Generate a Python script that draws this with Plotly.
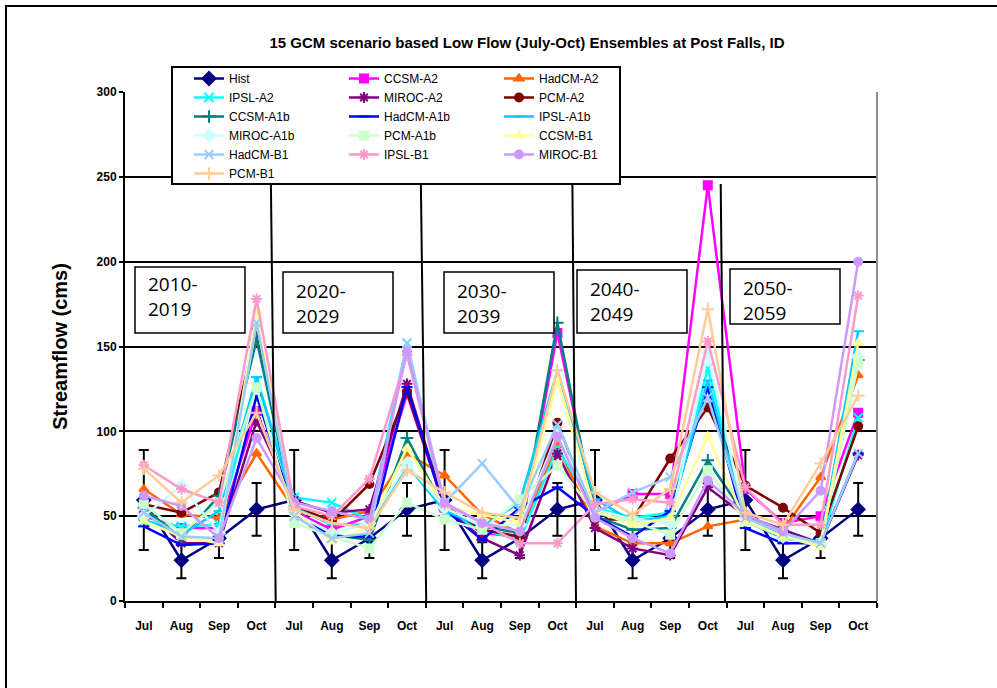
import plotly.graph_objects as go

# ---------------- data ----------------
months = ["Jul", "Aug", "Sep", "Oct"]
decades = ["2010-<br>2019", "2020-<br>2029", "2030-<br>2039", "2040-<br>2049", "2050-<br>2059"]
tick_labels = months * 5

series_names = ["Hist", "CCSM-A2", "HadCM-A2", "IPSL-A2", "MIROC-A2", "PCM-A2",
                "CCSM-A1b", "HadCM-A1b", "IPSL-A1b", "MIROC-A1b", "PCM-A1b",
                "CCSM-B1", "HadCM-B1", "IPSL-B1", "MIROC-B1", "PCM-B1"]

hist = [59.5, 24, 37, 54] * 5
hist_err = [29.5, 10.6, 11.6, 15.6] * 5

ccsm_a2 = [50, 43, 43, 112, 53, 42, 50, 122, 55, 40, 38, 158, 52, 63, 63, 245, 66, 46, 50, 111]
hadcm_a2 = [66, 51, 49, 87, 54, 48, 53, 87, 74, 51, 40, 92, 44, 34, 34, 44, 48, 42, 73, 133]
ipsl_a2 = [47, 44, 45, 130, 61, 58, 48, 152, 52, 42, 36, 90, 55, 49, 52, 137, 50, 42, 34, 108]
miroc_a2 = [55, 34, 34, 106, 59, 52, 54, 128, 55, 37, 27, 87, 43, 31, 27, 67, 50, 42, 34, 86]
pcm_a2 = [57, 52, 64, 160, 56, 47, 69, 123, 56, 42, 38, 105, 48, 48, 84, 114, 68, 55, 40, 103]
ccsm_a1b = [55, 37, 62, 154, 52, 39, 36, 96, 54, 44, 40, 164, 50, 42, 43, 83, 50, 38, 34, 142]
hadcm_a1b = [44, 33, 34, 121, 52, 38, 38, 126, 54, 36, 55, 67, 50, 38, 53, 126, 43, 34, 34, 87]
ipsl_a1b = [48, 39, 53, 132, 55, 45, 45, 80, 53, 44, 58, 136, 60, 47, 50, 130, 47, 37, 34, 159]
miroc_a1b = [50, 68, 40, 164, 52, 40, 46, 81, 55, 44, 45, 98, 54, 48, 46, 146, 48, 38, 34, 144]
pcm_a1b = [57, 40, 58, 126, 46, 38, 31, 58, 48, 42, 60, 80, 52, 47, 39, 77, 47, 38, 34, 140]
ccsm_b1 = [47, 38, 34, 171, 53, 35, 44, 90, 56, 51, 46, 130, 53, 45, 49, 97, 47, 38, 32, 152]
hadcm_b1 = [52, 38, 37, 164, 50, 37, 40, 152, 58, 81, 54, 104, 52, 64, 73, 120, 49, 40, 34, 87]
ipsl_b1 = [80, 66, 58, 178, 56, 50, 72, 145, 57, 46, 34, 34, 57, 60, 58, 153, 67, 45, 45, 180]
miroc_b1 = [62, 56, 37, 96, 58, 53, 48, 147, 58, 46, 41, 97, 49, 37, 28, 71, 51, 41, 65, 200]
pcm_b1 = [78, 58, 74, 111, 54, 46, 43, 77, 64, 52, 49, 136, 64, 51, 66, 172, 52, 45, 81, 121]

series_values = [hist, ccsm_a2, hadcm_a2, ipsl_a2, miroc_a2, pcm_a2,
                 ccsm_a1b, hadcm_a1b, ipsl_a1b, miroc_a1b, pcm_a1b,
                 ccsm_b1, hadcm_b1, ipsl_b1, miroc_b1, pcm_b1]

# ---------------- styles ----------------
colors = ["#000080", "#FF00FF", "#FF6600", "#00FFFF", "#800080", "#800000",
          "#008080", "#0000FF", "#00CCFF", "#CCFFFF", "#CCFFCC",
          "#FFFF99", "#99CCFF", "#FF99CC", "#CC99FF", "#FFCC99"]
symbols = ["diamond", "square", "triangle-up", "x-thin-open", "asterisk-open", "circle",
           "cross-thin-open", "line-ew-open", "line-ew-open", "diamond", "square",
           "triangle-up", "x-thin-open", "asterisk-open", "circle", "cross-thin-open"]
sizes = [10, 8, 8, 9, 9, 8, 9, 8, 8, 9, 8, 8, 9, 9, 8, 9]

W, H = 997, 688
L, R, T, B = 125, 877, 92, 601
PW, PH = R - L, B - T


def xp(px):
    return (px - L) / PW


def yp(py):
    return (B - py) / PH


x = list(range(20))
fig = go.Figure()
legends = ["legend", "legend2", "legend3"]
for i, (name, vals) in enumerate(zip(series_names, series_values)):
    c = colors[i]
    tr = dict(
        x=x, y=vals, name=name, mode="lines+markers",
        line=dict(color=c, width=2.5),
        marker=dict(symbol=symbols[i], size=sizes[i], color=c,
                    line=dict(color=c, width=2)),
        legend=legends[i % 3],
    )
    if i == 0:
        tr["error_y"] = dict(type="data", array=hist_err, visible=True,
                             color="black", thickness=2, width=5)
    fig.add_trace(go.Scatter(**tr))

shapes = []
# outer frame
shapes.append(dict(type="rect", xref="paper", yref="paper",
                   x0=xp(6), x1=xp(1005), y0=yp(700), y1=yp(6),
                   line=dict(color="black", width=2), layer="below"))
# right border of plot area
shapes.append(dict(type="line", xref="paper", yref="paper", x0=1, x1=1, y0=0, y1=1,
                   line=dict(color="#8c8c8c", width=2)))
# decade separator lines (hand drawn, slightly slanted)
for (xt, yt, xb) in [(270.9, 183, 275.7), (420.9, 185, 426.2), (572.4, 185, 576), (720.7, 184, 725)]:
    shapes.append(dict(type="line", xref="paper", yref="paper",
                       x0=xp(xt), y0=yp(yt), x1=xp(xb), y1=yp(601),
                       line=dict(color="black", width=2), layer="above"))
# legend box
shapes.append(dict(type="rect", xref="paper", yref="paper",
                   x0=xp(172), x1=xp(620), y0=yp(184), y1=yp(67),
                   line=dict(color="black", width=2), fillcolor="white", layer="above"))

# decade label boxes: (box x0, y0, x1, y1, text left, text centre y)
boxes = [(135, 267, 245, 333, 146, 296), (283, 272, 393, 333, 294, 303),
         (444, 272, 554, 333, 455, 303), (577, 270, 687, 333, 588, 301),
         (730, 269, 840, 324, 741, 300)]
annotations = []
for txt, (x0, y0, x1, y1, tx, ty) in zip(decades, boxes):
    shapes.append(dict(type="rect", xref="paper", yref="paper",
                       x0=xp(x0), x1=xp(x1), y0=yp(y1), y1=yp(y0),
                       line=dict(color="black", width=1.5), fillcolor="white", layer="above"))
    annotations.append(dict(
        text=txt, xref="paper", yref="paper", x=xp(tx), y=yp(ty),
        xanchor="left", yanchor="middle", showarrow=False, align="left",
        font=dict(family="Open Sans", size=19, color="black")))

leg_common = dict(orientation="v", bgcolor="rgba(0,0,0,0)", borderwidth=0,
                  font=dict(family="Liberation Sans, Arial", size=12, color="black"),
                  xanchor="left", yanchor="top", tracegroupgap=0, itemwidth=30)

fig.update_layout(
    width=W, height=H,
    margin=dict(l=L, r=W - R, t=T, b=H - B),
    paper_bgcolor="white", plot_bgcolor="white",
    title=dict(text="<b>15 GCM scenario based Low Flow (July-Oct) Ensembles at Post Falls, ID</b>",
               x=527 / W, y=1 - 43 / H, xref="container", yref="container",
               xanchor="center", yanchor="middle",
               font=dict(family="Liberation Sans, Arial", size=15, color="black")),
    xaxis=dict(range=[-0.5, 19.5], tickmode="array", tickvals=x, ticktext=tick_labels,
               ticks="outside", ticklen=13, tickcolor="rgba(0,0,0,0)",
               showgrid=False, zeroline=False, showline=True, linecolor="black", linewidth=2,
               tickfont=dict(family="Liberation Sans, Arial", size=12, color="black", weight="bold"),
               minor=dict(tickmode="array", tickvals=[i - 0.5 for i in range(21)],
                          ticks="outside", ticklen=5, tickcolor="black", tickwidth=2,
                          showgrid=False),
               fixedrange=True),
    yaxis=dict(range=[0, 300], tickmode="linear", tick0=0, dtick=50,
               ticks="outside", ticklen=4, tickcolor="black", tickwidth=2,
               showgrid=True, gridcolor="black", gridwidth=2,
               zeroline=False, showline=True, linecolor="black", linewidth=2,
               tickfont=dict(family="Liberation Sans, Arial", size=12, color="black", weight="bold"),
               title=dict(text="<b>Streamflow (cms)</b>", standoff=24,
                          font=dict(family="Liberation Sans, Arial", size=20, color="black")),
               automargin=False, fixedrange=True),
    shapes=shapes,
    annotations=annotations,
    legend=dict(x=xp(189), y=yp(64), **leg_common),
    legend2=dict(x=xp(344), y=yp(64), **leg_common),
    legend3=dict(x=xp(499), y=yp(64), **leg_common),
    showlegend=True,
)

fig.write_html("out.html")
